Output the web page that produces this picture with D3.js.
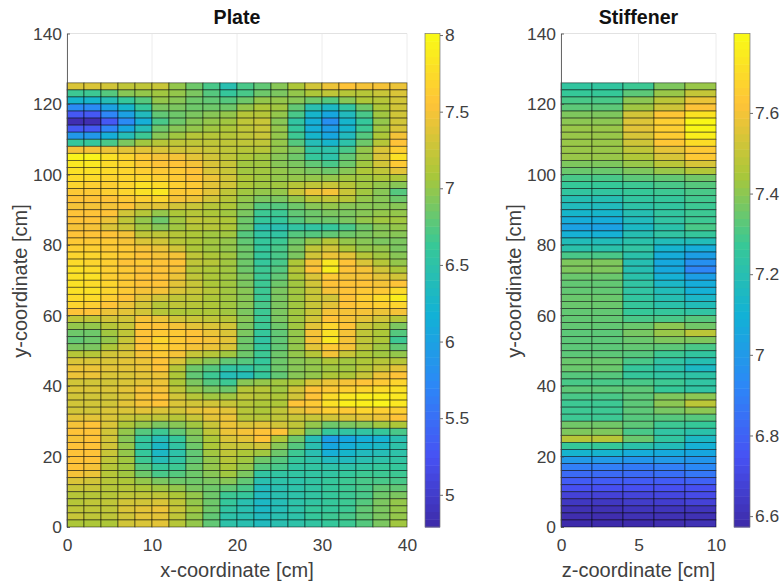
<!DOCTYPE html>
<html>
<head>
<meta charset="utf-8">
<script src="https://cdn.jsdelivr.net/npm/d3@7"></script>
<style>
html, body { margin: 0; padding: 0; background: #fff; }
svg { display: block; }
text { font-family: Arial, "Liberation Sans", sans-serif; fill: #404040; }
.title { font-weight: bold; fill: #111; }
</style>
</head>
<body>
<svg id="chart" width="782" height="587">
	<defs><filter id="soft" x="-2%" y="-2%" width="104%" height="104%"><feGaussianBlur stdDeviation="0.45"></feGaussianBlur></filter></defs>
</svg>
<script>
// parula anchors
var parula = ["#3e2aa8", "#4752f4", "#2d87f7", "#12b1d6", "#37c897", "#abc739", "#fec338", "#f9fb15"];

var plateTicks = [5, 5.5, 6, 6.5, 7, 7.5, 8];
var stiffTicks = [6.6, 6.8, 7, 7.2, 7.4, 7.6];
var plateRange = [4.79, 8.01];
var stiffRange = [6.573, 7.797];

// rows run top (y = 124-126 cm) to bottom (y = 0-2 cm), 2 cm cells
var plateValues = [
[7.35,7.35,7.3,7.2,7.2,7.25,7.0,6.85,6.7,6.45,6.7,6.8,6.95,7.1,7.3,7.45,7.55,7.5,7.5,7.45],
[6.65,6.65,6.75,6.95,7.0,7.05,7.0,6.9,6.75,6.6,6.7,6.85,6.9,7.0,7.1,7.2,7.15,7.15,7.25,7.35],
[6.25,6.25,6.4,6.6,6.75,7.0,6.95,6.85,6.8,6.75,6.85,7.0,7.0,6.95,6.85,6.75,6.95,7.1,7.15,7.3],
[5.75,5.75,6.0,6.25,6.6,6.9,6.9,6.85,6.85,6.85,7.0,7.1,7.05,6.8,6.45,6.3,6.55,6.85,7.1,7.3],
[5.3,5.3,5.7,6.0,6.35,6.8,6.85,6.9,6.95,7.0,7.15,7.15,7.0,6.7,6.25,6.05,6.35,6.7,7.05,7.3],
[4.85,4.85,5.3,5.75,6.15,6.7,6.85,6.95,7.0,7.05,7.2,7.25,6.95,6.55,6.15,5.8,6.25,6.6,7.0,7.3],
[5.3,5.3,5.7,6.05,6.4,6.85,6.95,7.0,7.05,7.1,7.2,7.25,7.0,6.6,6.15,5.95,6.25,6.65,7.05,7.35],
[5.9,5.9,6.15,6.4,6.65,6.95,7.05,7.15,7.15,7.15,7.2,7.25,7.0,6.65,6.25,6.05,6.35,6.75,7.1,7.5],
[6.6,6.6,6.7,6.9,7.05,7.15,7.2,7.2,7.2,7.2,7.2,7.2,7.0,6.75,6.4,6.25,6.5,6.85,7.15,7.55],
[7.5,7.5,7.45,7.4,7.4,7.35,7.3,7.3,7.25,7.2,7.15,7.15,7.0,6.9,6.55,6.5,6.7,7.0,7.35,7.65],
[7.95,7.95,7.8,7.7,7.6,7.5,7.5,7.4,7.3,7.2,7.1,7.05,6.95,6.85,6.6,6.5,6.8,7.0,7.35,7.8],
[7.85,7.85,7.75,7.7,7.6,7.55,7.55,7.5,7.35,7.25,7.05,7.05,6.95,6.9,6.8,6.7,6.85,7.05,7.3,7.6],
[7.8,7.8,7.75,7.7,7.65,7.6,7.6,7.55,7.35,7.25,7.05,7.05,7.0,6.95,6.9,6.85,6.95,7.1,7.2,7.4],
[7.75,7.75,7.7,7.7,7.7,7.65,7.6,7.55,7.45,7.3,7.1,7.05,7.0,7.0,7.0,7.0,7.05,7.05,7.1,7.1],
[7.7,7.65,7.65,7.7,7.8,7.75,7.65,7.6,7.4,7.3,7.1,7.05,7.05,7.15,7.2,7.25,7.15,7.05,7.0,6.95],
[7.6,7.6,7.65,7.7,7.8,7.85,7.6,7.6,7.4,7.2,7.05,7.0,7.0,7.25,7.45,7.5,7.25,7.05,6.95,6.75],
[7.55,7.55,7.55,7.6,7.65,7.7,7.5,7.45,7.3,7.15,7.0,6.9,6.9,7.0,7.15,7.2,7.15,7.0,6.95,6.85],
[7.5,7.5,7.5,7.55,7.4,7.4,7.3,7.25,7.15,7.1,6.95,6.75,6.75,6.85,6.95,7.0,6.95,6.95,6.95,6.95],
[7.55,7.55,7.55,7.3,7.15,7.0,7.1,7.15,7.1,7.05,6.9,6.65,6.65,6.8,6.85,6.9,6.9,6.95,7.0,7.0],
[7.55,7.55,7.45,7.2,7.0,6.85,7.05,7.2,7.15,7.1,6.85,6.6,6.6,6.75,6.85,6.85,6.9,7.0,7.05,7.05],
[7.5,7.5,7.35,7.25,7.05,6.95,7.05,7.15,7.15,7.1,6.85,6.45,6.45,6.55,6.55,6.6,6.7,6.85,6.95,7.0],
[7.55,7.55,7.55,7.5,7.2,7.2,7.15,7.1,7.05,7.05,6.75,6.55,6.55,6.75,6.75,6.8,6.85,6.9,6.95,6.95],
[7.6,7.6,7.6,7.5,7.35,7.3,7.15,7.1,7.05,7.0,6.8,6.6,6.65,6.85,7.0,7.15,7.0,6.95,6.9,6.9],
[7.65,7.65,7.6,7.6,7.5,7.45,7.3,7.1,7.05,7.0,6.85,6.6,6.7,6.9,7.2,7.3,7.1,7.0,7.0,6.9],
[7.7,7.7,7.65,7.6,7.55,7.5,7.5,7.2,7.1,7.05,6.85,6.6,6.7,6.9,7.3,7.45,7.4,7.15,7.05,6.95],
[7.75,7.7,7.65,7.55,7.6,7.55,7.55,7.2,7.15,7.05,6.85,6.6,6.7,7.1,7.5,7.85,7.55,7.35,7.15,7.0],
[7.8,7.75,7.65,7.6,7.55,7.55,7.5,7.15,7.1,7.05,6.85,6.65,6.75,7.15,7.55,7.9,7.55,7.5,7.3,7.1],
[7.8,7.8,7.65,7.6,7.55,7.55,7.45,7.2,7.1,7.05,6.9,6.65,6.8,7.1,7.35,7.6,7.5,7.5,7.4,7.3],
[7.8,7.75,7.7,7.6,7.55,7.55,7.4,7.25,7.1,7.05,6.9,6.65,6.85,7.05,7.3,7.55,7.55,7.55,7.5,7.55],
[7.8,7.8,7.7,7.6,7.5,7.5,7.35,7.25,7.15,7.05,6.95,6.65,6.9,7.05,7.25,7.5,7.55,7.6,7.6,7.75],
[7.75,7.75,7.65,7.55,7.4,7.3,7.2,7.2,7.1,7.05,6.95,6.65,6.9,7.05,7.25,7.3,7.55,7.65,7.75,7.9],
[7.7,7.65,7.55,7.45,7.3,7.15,7.2,7.15,7.1,7.05,6.95,6.7,6.9,7.05,7.25,7.4,7.55,7.6,7.65,7.7],
[7.55,7.55,7.45,7.4,7.3,7.15,7.1,7.1,7.1,7.05,6.9,6.65,6.9,7.05,7.25,7.5,7.5,7.5,7.45,7.5],
[7.2,7.2,7.3,7.3,7.5,7.45,7.3,7.25,7.2,7.15,6.95,6.65,6.9,7.05,7.3,7.55,7.5,7.4,7.3,7.15],
[7.0,7.0,7.15,7.25,7.55,7.55,7.5,7.4,7.35,7.3,6.9,6.65,6.85,7.05,7.4,7.7,7.55,7.25,7.15,6.9],
[6.85,6.85,7.05,7.2,7.55,7.6,7.6,7.55,7.45,7.35,6.9,6.6,6.8,7.0,7.5,7.8,7.5,7.2,7.1,6.75],
[6.8,6.85,7.0,7.25,7.55,7.7,7.6,7.55,7.5,7.4,6.85,6.55,6.8,7.0,7.5,7.85,7.5,7.2,7.1,6.65],
[6.9,6.9,7.1,7.3,7.55,7.65,7.6,7.5,7.45,7.35,6.85,6.6,6.8,7.0,7.4,7.6,7.5,7.2,7.05,6.8],
[7.15,7.15,7.3,7.35,7.5,7.6,7.5,7.25,7.15,7.05,6.85,6.65,6.85,7.0,7.15,7.5,7.25,7.1,7.05,7.0],
[7.35,7.35,7.35,7.4,7.45,7.55,7.35,7.05,6.95,6.8,6.75,6.6,6.85,6.95,7.0,7.1,7.05,7.1,7.15,7.15],
[7.45,7.45,7.4,7.4,7.45,7.55,7.15,6.85,6.75,6.55,6.55,6.65,6.85,6.95,7.0,7.05,7.05,7.15,7.25,7.4],
[7.45,7.45,7.35,7.35,7.4,7.45,7.1,6.8,6.65,6.4,6.4,6.6,6.8,6.95,7.0,7.1,7.1,7.25,7.45,7.55],
[7.3,7.3,7.3,7.35,7.4,7.45,7.1,6.9,6.75,6.65,6.95,7.0,7.05,7.1,7.35,7.45,7.5,7.55,7.6,7.7],
[7.35,7.35,7.35,7.4,7.5,7.5,7.2,7.0,6.9,6.85,7.15,7.15,7.05,7.3,7.55,7.6,7.65,7.7,7.75,7.8],
[7.3,7.3,7.3,7.35,7.5,7.55,7.3,7.15,7.05,7.05,7.2,7.15,7.1,7.3,7.55,7.75,7.85,7.9,7.9,7.85],
[7.3,7.3,7.3,7.4,7.5,7.55,7.35,7.3,7.3,7.25,7.15,7.1,7.1,7.55,7.6,7.8,7.9,7.9,7.95,7.85],
[7.3,7.3,7.35,7.35,7.4,7.35,7.3,7.4,7.45,7.4,7.15,7.1,7.2,7.4,7.5,7.65,7.6,7.7,7.65,7.65],
[7.4,7.4,7.35,7.25,7.2,7.2,7.15,7.25,7.4,7.45,7.15,7.15,7.2,7.25,7.25,7.3,7.35,7.4,7.45,7.55],
[7.5,7.55,7.35,7.1,7.0,6.9,6.95,7.05,7.25,7.45,7.35,7.4,7.3,7.2,7.0,6.85,6.9,6.95,7.05,7.1],
[7.55,7.55,7.3,7.0,6.75,6.65,6.8,6.95,7.2,7.45,7.5,7.55,7.55,7.15,6.85,6.6,6.55,6.55,6.6,6.7],
[7.5,7.55,7.3,6.95,6.6,6.4,6.6,6.9,7.1,7.35,7.4,7.55,7.1,6.85,6.4,5.95,6.05,6.15,6.2,6.45],
[7.55,7.55,7.3,7.0,6.55,6.3,6.55,6.85,7.1,7.25,7.25,7.3,6.95,6.75,6.45,6.05,6.15,6.25,6.3,6.5],
[7.55,7.55,7.25,7.0,6.6,6.3,6.5,6.8,7.05,7.2,7.1,7.05,6.85,6.65,6.45,6.15,6.25,6.35,6.4,6.5],
[7.55,7.55,7.2,7.05,6.65,6.4,6.55,6.8,7.0,7.15,7.05,6.85,6.75,6.6,6.5,6.35,6.35,6.45,6.5,6.55],
[7.55,7.5,7.15,7.05,6.75,6.6,6.65,6.85,7.0,7.1,7.0,6.75,6.7,6.55,6.55,6.5,6.5,6.55,6.6,6.6],
[7.5,7.45,7.15,7.05,6.85,6.7,6.75,6.85,6.95,7.05,6.9,6.55,6.55,6.55,6.55,6.55,6.6,6.65,6.65,6.65],
[7.35,7.3,7.15,7.1,7.0,6.9,6.85,6.85,6.9,6.95,6.8,6.45,6.5,6.5,6.55,6.6,6.65,6.7,6.7,6.7],
[7.25,7.25,7.15,7.15,7.1,7.05,7.0,6.9,6.85,6.8,6.7,6.35,6.45,6.5,6.55,6.6,6.65,6.7,6.8,6.8],
[7.15,7.15,7.15,7.2,7.2,7.2,7.1,7.0,6.85,6.65,6.6,6.35,6.45,6.5,6.55,6.6,6.65,6.7,6.85,6.9],
[7.15,7.2,7.2,7.3,7.3,7.35,7.2,7.0,6.85,6.6,6.45,6.3,6.4,6.5,6.55,6.6,6.65,6.75,6.9,7.0],
[7.2,7.2,7.2,7.35,7.4,7.45,7.25,7.05,6.85,6.55,6.45,6.3,6.4,6.5,6.6,6.6,6.65,6.8,6.9,7.0],
[7.25,7.2,7.2,7.3,7.4,7.4,7.2,7.0,6.8,6.5,6.45,6.35,6.45,6.5,6.6,6.65,6.7,6.8,6.9,7.0],
[7.1,7.1,7.1,7.3,7.35,7.4,7.15,7.0,6.8,6.5,6.45,6.35,6.45,6.5,6.55,6.6,6.65,6.75,6.9,7.05]
];

var stiffValues = [
[7.25,7.25,7.28,7.38,7.42],
[7.27,7.27,7.33,7.42,7.5],
[7.3,7.3,7.4,7.48,7.58],
[7.33,7.33,7.43,7.52,7.62],
[7.38,7.38,7.53,7.63,7.72],
[7.4,7.4,7.55,7.66,7.78],
[7.42,7.42,7.56,7.66,7.78],
[7.42,7.42,7.54,7.65,7.76],
[7.42,7.42,7.52,7.63,7.7],
[7.42,7.42,7.49,7.57,7.64],
[7.42,7.42,7.46,7.54,7.64],
[7.38,7.38,7.42,7.48,7.54],
[7.35,7.35,7.38,7.42,7.46],
[7.3,7.3,7.33,7.34,7.36],
[7.27,7.27,7.28,7.3,7.32],
[7.25,7.25,7.27,7.28,7.3],
[7.2,7.2,7.25,7.26,7.29],
[7.17,7.17,7.23,7.25,7.28],
[7.13,7.13,7.2,7.25,7.28],
[7.08,7.08,7.17,7.24,7.28],
[7.03,7.03,7.15,7.22,7.3],
[7.1,7.1,7.2,7.24,7.26],
[7.18,7.18,7.22,7.18,7.18],
[7.22,7.22,7.24,7.12,7.08],
[7.3,7.3,7.22,7.08,7.02],
[7.38,7.38,7.2,7.06,6.96],
[7.38,7.38,7.2,7.06,6.92],
[7.35,7.35,7.22,7.1,7.02],
[7.34,7.34,7.24,7.14,7.08],
[7.34,7.34,7.24,7.18,7.1],
[7.35,7.35,7.25,7.2,7.14],
[7.35,7.35,7.26,7.22,7.18],
[7.34,7.34,7.27,7.26,7.24],
[7.34,7.34,7.3,7.3,7.32],
[7.34,7.34,7.35,7.4,7.36],
[7.33,7.33,7.37,7.42,7.48],
[7.33,7.33,7.35,7.38,7.38],
[7.33,7.33,7.34,7.33,7.3],
[7.33,7.33,7.32,7.28,7.25],
[7.35,7.35,7.3,7.24,7.2],
[7.35,7.35,7.26,7.22,7.15],
[7.32,7.32,7.26,7.24,7.23],
[7.3,7.3,7.3,7.28,7.24],
[7.33,7.33,7.33,7.27,7.24],
[7.3,7.3,7.33,7.38,7.4],
[7.28,7.28,7.33,7.4,7.48],
[7.28,7.28,7.33,7.37,7.4],
[7.28,7.28,7.32,7.32,7.32],
[7.36,7.36,7.33,7.28,7.27],
[7.38,7.38,7.3,7.24,7.22],
[7.47,7.47,7.35,7.25,7.15],
[7.27,7.27,7.22,7.18,7.1],
[7.12,7.12,7.08,7.07,7.05],
[7,7,6.98,7,6.98],
[6.9,6.9,6.88,6.9,6.93],
[6.83,6.83,6.83,6.84,6.87],
[6.78,6.78,6.78,6.78,6.8],
[6.74,6.74,6.74,6.74,6.74],
[6.68,6.68,6.69,6.7,6.72],
[6.63,6.63,6.65,6.66,6.68],
[6.6,6.6,6.62,6.62,6.62],
[6.59,6.59,6.6,6.6,6.6],
[6.58,6.58,6.58,6.59,6.6]
];

var svg = d3.select("#chart");
var tickFont = 17.4;

function styleTicks(a) {
	a.selectAll("text").attr("font-size", tickFont).style("font-family", "Arial, 'Liberation Sans', sans-serif").attr("fill", "#404040");
	a.selectAll("path,line").attr("stroke", "#444").attr("stroke-width", 0.8);
}

function drawPanel(opt) {
	var x = d3.scaleLinear().domain([0, opt.xMax]).range([opt.left, opt.right]);
	var y = d3.scaleLinear().domain([0, 140]).range([527, 33.5]);

	// colour by value, parula anchors spread evenly over the range
	var color = d3.scaleLinear()
		.domain(parula.map(function(c, i) { return opt.range[0] + (opt.range[1] - opt.range[0]) * i / (parula.length - 1); }))
		.range(parula)
		.clamp(true);

	var g = svg.append("g");

	// faint grid, shows only above the cells
	g.append("g").selectAll("line").data(opt.xTicks).join("line")
		.attr("x1", d => x(d)).attr("x2", d => x(d))
		.attr("y1", y(0)).attr("y2", y(140))
		.attr("stroke", "#ececec");
	g.append("line")
		.attr("x1", x(0)).attr("x2", x(opt.xMax))
		.attr("y1", y(140)).attr("y2", y(140))
		.attr("stroke", "#e2e2e2");

	// cells
	var cellW = 2, cellH = 2, nRows = opt.values.length;
	var cells = g.append("g").attr("filter", "url(#soft)");
	opt.values.forEach(function(row, i) {
		var y0 = (nRows - 1 - i) * cellH;
		cells.append("g").selectAll("rect").data(row).join("rect")
			.attr("x", (d, j) => x(j * cellW))
			.attr("y", y(y0 + cellH))
			.attr("width", (d, j) => x((j + 1) * cellW) - x(j * cellW))
			.attr("height", y(y0) - y(y0 + cellH))
			.attr("fill", d => color(d))
			.attr("stroke", "#000")
			.attr("stroke-opacity", 0.6)
			.attr("stroke-width", 0.8);
	});

	// axes
	var xAxis = d3.axisBottom(x).tickValues(opt.xTicks).tickSize(0).tickPadding(12).tickFormat(d3.format("d"));
	var yAxis = d3.axisLeft(y).tickValues(d3.range(0, 141, 20)).tickSize(-3).tickSizeOuter(0).tickPadding(5).tickFormat(d3.format("d"));
	var gx = g.append("g").attr("transform", "translate(0,527)").call(xAxis);
	gx.select("path").remove();
	var gy = g.append("g").attr("transform", "translate(" + opt.left + ",0)").call(yAxis);
	styleTicks(gx);
	styleTicks(gy);

	g.append("text").attr("class", "title")
		.attr("x", (opt.left + opt.right) / 2).attr("y", 24)
		.attr("text-anchor", "middle").attr("font-size", 19.6)
		.text(opt.title);
	g.append("text")
		.attr("x", (opt.left + opt.right) / 2).attr("y", 577)
		.attr("text-anchor", "middle").attr("font-size", 20)
		.text(opt.xLabel);
	g.append("text")
		.attr("transform", "translate(" + (opt.left - 40) + ",281) rotate(-90)")
		.attr("text-anchor", "middle").attr("font-size", 20)
		.text("y-coordinate [cm]");

	// colour bar
	var barY = d3.scaleLinear().domain(opt.range).range([527, 33.5]);
	var steps = d3.range(64);
	var step = (opt.range[1] - opt.range[0]) / steps.length;
	g.append("g").selectAll("rect").data(steps).join("rect")
		.attr("x", opt.barLeft)
		.attr("y", d => barY(opt.range[0] + (d + 1) * step))
		.attr("width", opt.barRight - opt.barLeft)
		.attr("height", d => barY(opt.range[0] + d * step) - barY(opt.range[0] + (d + 1) * step) + 0.5)
		.attr("fill", d => color(opt.range[0] + (d + 0.5) * step));
	var barAxis = d3.axisRight(barY).tickValues(opt.barTicks).tickSize(3).tickSizeOuter(0).tickPadding(2).tickFormat(d3.format("~g"));
	var gb = g.append("g").attr("transform", "translate(" + opt.barRight + ",0)").call(barAxis);
	gb.select("path").remove();
	styleTicks(gb);
	g.append("rect")
		.attr("x", opt.barLeft).attr("y", 33.5)
		.attr("width", opt.barRight - opt.barLeft).attr("height", 493.5)
		.attr("fill", "none").attr("stroke", "#777").attr("stroke-width", 0.7);
}

drawPanel({
	title: "Plate", xLabel: "x-coordinate [cm]", xMax: 40,
	left: 67, right: 407, barLeft: 425, barRight: 440,
	xTicks: [0, 10, 20, 30, 40], values: plateValues,
	range: plateRange, barTicks: plateTicks
});
drawPanel({
	title: "Stiffener", xLabel: "z-coordinate [cm]", xMax: 10,
	left: 561, right: 716, barLeft: 734, barRight: 750,
	xTicks: [0, 5, 10], values: stiffValues,
	range: stiffRange, barTicks: stiffTicks
});
</script>
</body>
</html>
